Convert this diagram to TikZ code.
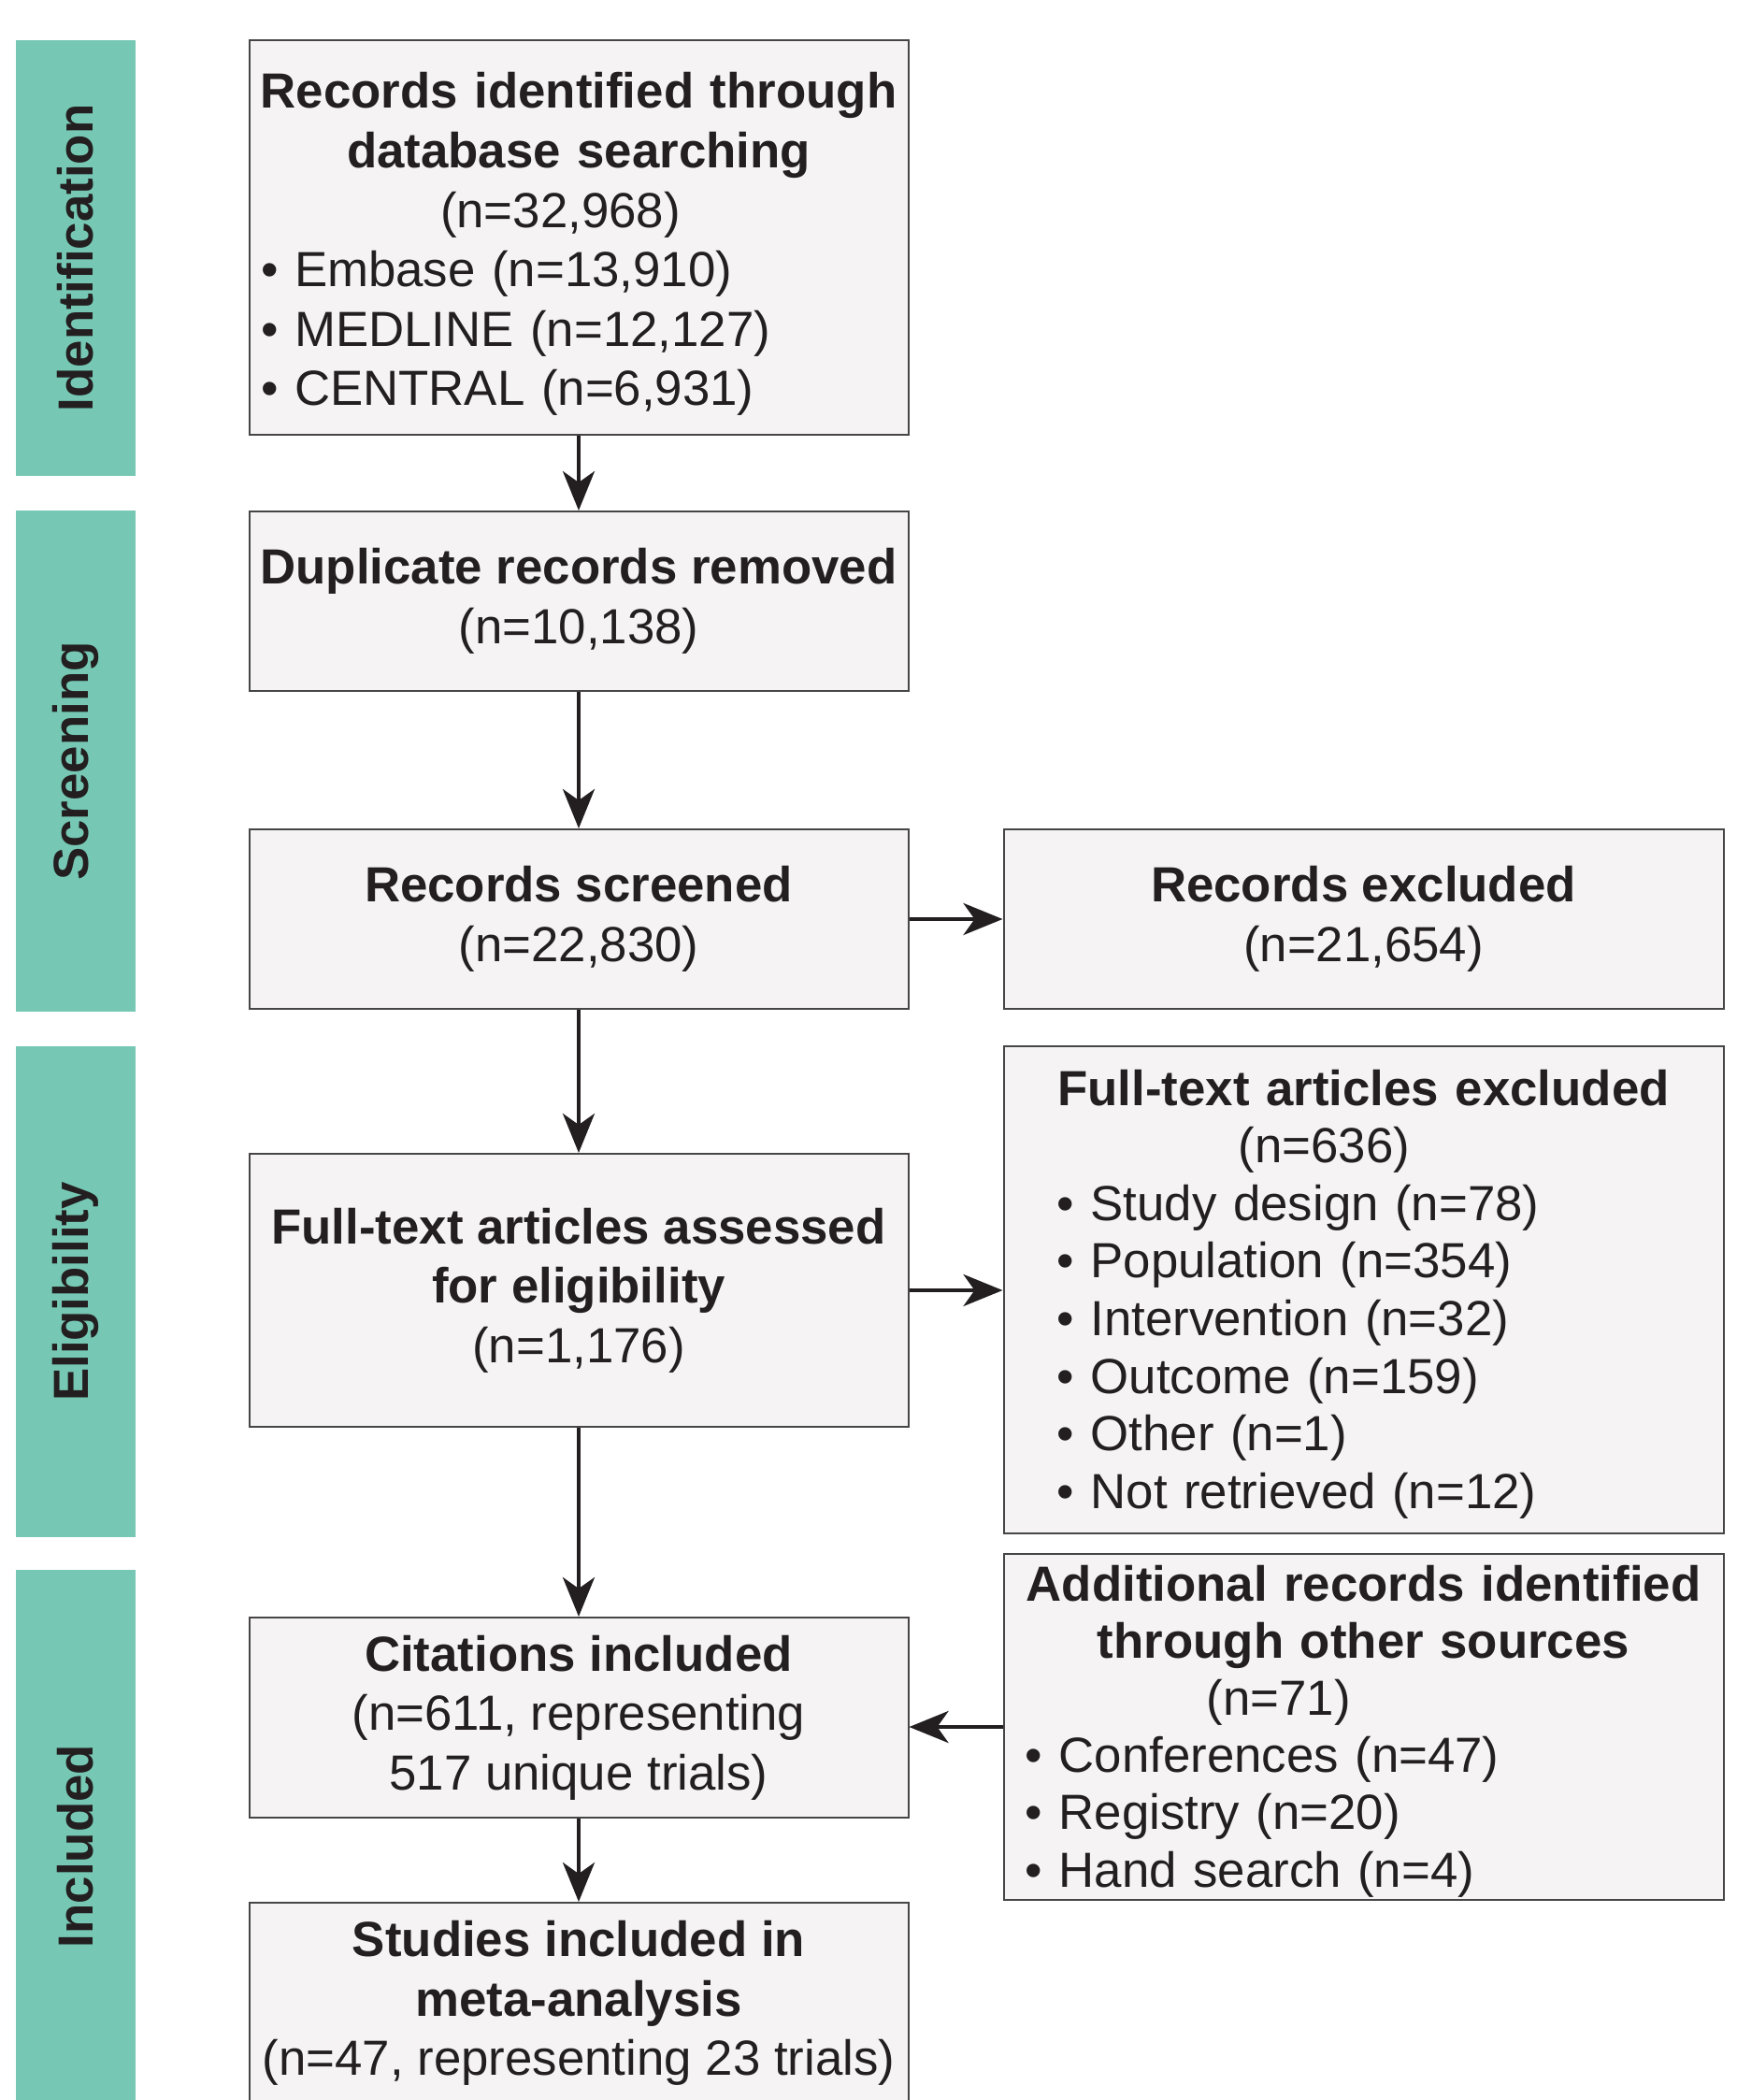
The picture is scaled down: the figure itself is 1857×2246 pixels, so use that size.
\documentclass[tikz,border=0pt]{standalone}
\usepackage{fontspec}
\setmainfont{Liberation Sans}
\usepackage{tikz}
\usepackage{xcolor}
\usetikzlibrary{positioning, arrows.meta}

\definecolor{phasegreen}{RGB}{118,200,180}
\definecolor{boxfill}{RGB}{245,243,244}
\definecolor{boxline}{RGB}{70,70,70}
\definecolor{inkgray}{RGB}{35,31,32}

\newcommand{\midline}[1]{\makebox[\linewidth][c]{#1}}
\newcommand{\leftrow}[1]{\makebox[\linewidth][l]{#1}}

\tikzset{
    phase/.style={rectangle, fill=phasegreen, rotate=90, minimum height=32pt, inner sep=0pt, text=inkgray, font=\fontsize{13.2}{15.9}\selectfont\bfseries},
    flowbox/.style={rectangle, draw=boxline, line width=0.5pt, fill=boxfill, inner sep=0pt, text=inkgray, align=center, font=\fontsize{13.2}{15.9}\selectfont},
    listbox/.style={flowbox, align=left},
    flowarrow/.style={-{Stealth[length=10.5pt, width=8.5pt, inset=3pt]}, line width=1.1pt, draw=inkgray}
}

\begin{document}
\begin{tikzpicture}[x=0.25pt, y=-0.25pt]
                    \clip (0,0) rectangle (1857,2246);

                    \node[phase, minimum width=116.5pt] (identification) at (81, 276) {Identification};
                    \node[phase, minimum width=134pt] (screening) at (81, 814) {Screening};
                    \node[phase, minimum width=131.25pt] (eligibility) at (81, 1381.5) {Eligibility};
                    \node[phase, minimum width=147.75pt] (included) at (81, 1974.5) {Included};

                    \node[listbox, minimum width=176.25pt, minimum height=105.5pt, text width=170pt] (search) at (619, 254) {\rule{0pt}{13.2pt}\midline{\bfseries Records identified through}\\\midline{\bfseries database searching}\\\leftrow{\hspace*{48pt}(n=32,968)}\\\leftrow{• Embase (n=13,910)}\\\leftrow{• MEDLINE (n=12,127)}\\\leftrow{• CENTRAL (n=6,931)}};
                    \node[flowbox, minimum width=176.25pt, minimum height=48pt] (duplicates) at (619, 643) {\textbf{Duplicate records removed}\\(n=10,138)};
                    \node[flowbox, minimum width=176.25pt, minimum height=48pt] (screened) at (619, 983) {\textbf{Records screened}\\(n=22,830)};
                    \node[flowbox, minimum width=176.25pt, minimum height=73pt] (assessed) at (619, 1380) {\textbf{Full-text articles assessed}\\\textbf{for eligibility}\\(n=1,176)};
                    \node[flowbox, minimum width=176.25pt, minimum height=53.5pt] (citations) at (619, 1837) {\textbf{Citations included}\\(n=611, representing\\517 unique trials)};
                    \node[flowbox, minimum width=176.25pt, minimum height=53.75pt] (studies) at (619, 2142.5) {\textbf{Studies included in}\\\textbf{meta-analysis}\\(n=47, representing 23 trials)};

                    \node[flowbox, minimum width=192.5pt, minimum height=48pt] (excluded) at (1458.5, 983) {\textbf{Records excluded}\\(n=21,654)};
                    \node[listbox, minimum width=192.5pt, minimum height=130.25pt, text width=164pt, font=\fontsize{13.2}{15.4}\selectfont] (fulltextout) at (1458.5, 1379.5) {\rule{0pt}{11.8pt}\midline{\bfseries Full-text articles excluded}\\\leftrow{\hspace*{48.5pt}(n=636)}\\\leftrow{• Study design (n=78)}\\\leftrow{• Population (n=354)}\\\leftrow{• Intervention (n=32)}\\\leftrow{• Outcome (n=159)}\\\leftrow{• Other (n=1)}\\\leftrow{• Not retrieved (n=12)}};
                    \node[listbox, minimum width=192.5pt, minimum height=92.5pt, text width=181pt, font=\fontsize{13.2}{15.3}\selectfont] (additional) at (1458.5, 1847) {\rule{0pt}{11.8pt}\midline{\bfseries Additional records identified}\\\midline{\bfseries through other sources}\\\leftrow{\hspace*{48.5pt}(n=71)}\\\leftrow{• Conferences (n=47)}\\\leftrow{• Registry (n=20)}\\\leftrow{• Hand search (n=4)}};

                    \draw[flowarrow] (search) -- (duplicates);
                    \draw[flowarrow] (duplicates) -- (screened);
                    \draw[flowarrow] (screened) -- (excluded);
                    \draw[flowarrow] (screened) -- (assessed);
                    \draw[flowarrow] (assessed.east) -- (assessed.east -| fulltextout.west);
                    \draw[flowarrow] (assessed) -- (citations);
                    \draw[flowarrow] (additional.west) -- (additional.west -| citations.east);
                    \draw[flowarrow] (citations) -- (studies);
                \end{tikzpicture}
\end{document}
